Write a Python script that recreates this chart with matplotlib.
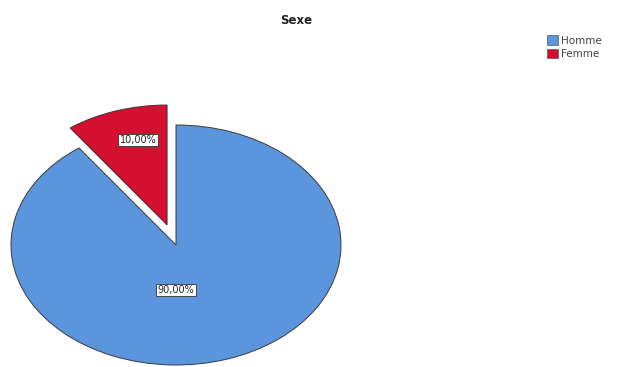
import matplotlib.pyplot as plt
from matplotlib.patches import Patch

# Répartition par sexe
categories = ["Homme", "Femme"]
pourcentages = [90.0, 10.0]
couleurs = ["#5b95de", "#d40f2f"]
eclatement = [0.0, 0.175]

W, H = 617, 367
fig = plt.figure(figsize=(W / 100, H / 100), dpi=100)

# ellipse : centre (176, 245) px, rayons 165 x 120 px
cx, cy, rx, ry = 176, 245, 165, 120
ax = fig.add_axes([(cx - rx) / W, (H - cy - ry) / H, 2 * rx / W, 2 * ry / H])

wedges, _ = ax.pie(pourcentages, colors=couleurs, explode=eclatement,
                   startangle=126, counterclock=True,
                   wedgeprops=dict(edgecolor="#3a3a3a", linewidth=0.7))
for w in wedges:
    w.set_clip_on(False)
ax.set_aspect("auto")
ax.set_xlim(-1, 1)
ax.set_ylim(-1, 1)
ax.axis("off")

# étiquettes de pourcentage
positions = [(0.0, -0.375), (-0.23, 0.875)]
for val, (x, y) in zip(pourcentages, positions):
    txt = f"{val:.2f}%".replace(".", ",")
    ax.text(x, y, txt, ha="center", va="center", fontsize=7, color="#222222",
            bbox=dict(boxstyle="square,pad=0.15", facecolor="white",
                      edgecolor="#333333", linewidth=0.6))

fig.text(296 / W, 1 - 20 / H, "Sexe", ha="center", va="center",
         fontsize=8.5, fontweight="bold", color="#222222")

handles = [Patch(facecolor=c, edgecolor="#555555", linewidth=0.5) for c in couleurs]
fig.legend(handles, categories, loc="upper left",
           bbox_to_anchor=(540 / W, 1 - 28 / H), frameon=False,
           fontsize=7.5, handlelength=1.0, handleheight=1.0,
           handletextpad=0.3, labelspacing=0.35, borderpad=0.2,
           labelcolor="#444444")

fig.savefig("out.png", dpi=100)
